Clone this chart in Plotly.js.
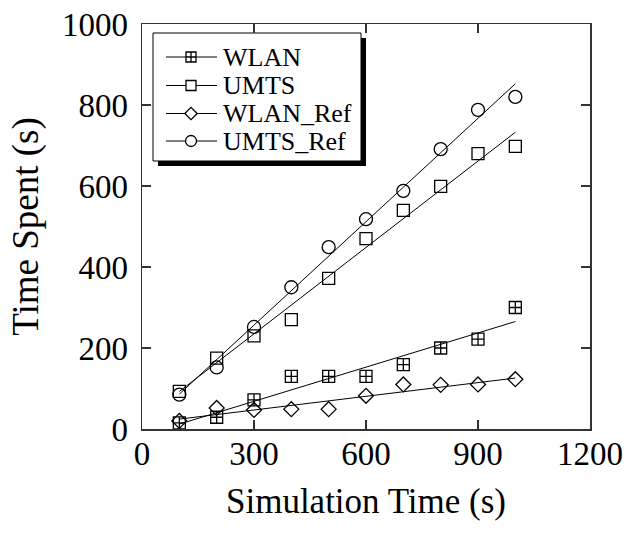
<!DOCTYPE html>
<html>
<head>
<meta charset="utf-8">
<script src="https://cdn.plot.ly/plotly-3.0.1.min.js"></script>
<style>html,body{margin:0;padding:0;background:#fff;}#chart{width:643px;height:534px;}</style>
</head>
<body>
<div id="chart"></div>
<script>
const simTime = [100, 200, 300, 400, 500, 600, 700, 800, 900, 1000];
const wlan    = [15, 29, 72, 130, 130, 130, 159, 200, 222, 300];
const umts    = [93, 175, 230, 270, 372, 470, 540, 599, 680, 698];
const wlanRef = [20, 52, 47, 49, 49, 82, 110, 109, 110, 123];
const umtsRef = [85, 152, 252, 350, 449, 518, 588, 691, 788, 820];
const seriesNames = ['WLAN', 'UMTS', 'WLAN_Ref', 'UMTS_Ref'];
const xTicks = [0, 300, 600, 900, 1200];
const yTicks = [0, 200, 400, 600, 800, 1000];

const seriesData = [wlan, umts, wlanRef, umtsRef];
const symbolsOpen = ['square-cross-open', 'square-open', 'diamond-open', 'circle-open'];
const symbolsFilled = ['square-cross', 'square', 'diamond', 'circle'];
const sizes = [12, 12, 11.5, 13];
const FONT = 'Liberation Serif, Times New Roman, serif';

// plot area in pixels (for legend placement)
const M = {l: 142, r: 53, t: 24, b: 105};
const W = 643, H = 534;
const PW = W - M.l - M.r, PH = H - M.t - M.b;
const fx = px => (px - M.l) / PW;
const fy = py => (H - M.b - py) / PH;

function fit(xs, ys) {
  const n = xs.length;
  const mx = xs.reduce((a, b) => a + b, 0) / n;
  const my = ys.reduce((a, b) => a + b, 0) / n;
  let sxy = 0, sxx = 0;
  for (let i = 0; i < n; i++) { sxy += (xs[i] - mx) * (ys[i] - my); sxx += (xs[i] - mx) ** 2; }
  const b = sxy / sxx, a = my - b * mx;
  const x0 = Math.min(...xs), x1 = Math.max(...xs);
  return {x: [x0, x1], y: [a + b * x0, a + b * x1]};
}

const traces = [];
seriesData.forEach((ys, i) => {
  const f = fit(simTime, ys);
  traces.push({x: f.x, y: f.y, mode: 'lines', line: {color: '#000', width: 1}, showlegend: false, hoverinfo: 'skip'});
  traces.push({x: simTime, y: ys, mode: 'markers', name: seriesNames[i], showlegend: false,
    marker: {symbol: symbolsOpen[i], size: sizes[i], color: '#000', line: {color: '#000', width: 1.3}}});
});

// custom legend (box with drop shadow, line glyphs, markers, labels)
const lg = {left: 153, top: 33, right: 361, bottom: 161, shadow: 5,
  rows: [57, 85.5, 113.5, 141], lineX0: 166, lineX1: 217, markX: 191, textX: 222};
const shapes = [
  {type: 'rect', xref: 'paper', yref: 'paper', layer: 'below',
   x0: fx(lg.left + lg.shadow), x1: fx(lg.right + lg.shadow), y0: fy(lg.bottom + lg.shadow), y1: fy(lg.top + lg.shadow),
   fillcolor: '#000', line: {width: 0}},
  {type: 'rect', xref: 'paper', yref: 'paper', layer: 'below',
   x0: fx(lg.left), x1: fx(lg.right), y0: fy(lg.bottom), y1: fy(lg.top),
   fillcolor: '#fff', line: {color: '#000', width: 1}}
];
const annotations = [];
seriesNames.forEach((nm, i) => {
  const ry = fy(lg.rows[i]);
  shapes.push({type: 'line', xref: 'paper', yref: 'paper', layer: 'below',
    x0: fx(lg.lineX0), x1: fx(lg.lineX1), y0: ry, y1: ry, line: {color: '#000', width: 1}});
  traces.push({x: [fx(lg.markX)], y: [ry], xaxis: 'x2', yaxis: 'y2', mode: 'markers', showlegend: false,
    hoverinfo: 'skip', cliponaxis: false,
    marker: {symbol: symbolsFilled[i], size: sizes[i] - 2, color: '#fff', line: {color: '#000', width: 1.3}}});
  annotations.push({xref: 'paper', yref: 'paper', x: fx(lg.textX), y: ry, xanchor: 'left', yanchor: 'middle',
    text: nm, showarrow: false, font: {family: FONT, size: 26, color: '#000'}, borderpad: 0});
});

const axisCommon = {
  showgrid: false, zeroline: false, showline: true, linecolor: '#333', linewidth: 1.5,
  mirror: 'ticks', ticks: 'inside', ticklen: 9, tickwidth: 1.5, tickcolor: '#333',
  tickfont: {family: FONT, size: 33, color: '#000'}
};

const layout = {
  width: W, height: H,
  margin: M,
  paper_bgcolor: '#fff', plot_bgcolor: '#fff',
  font: {family: FONT, color: '#000'},
  showlegend: false,
  xaxis: Object.assign({}, axisCommon, {range: [0, 1200], tickvals: xTicks, ticktext: xTicks.map(String),
    ticklabelstandoff: -5,
    title: {text: 'Simulation Time (s)', font: {family: FONT, size: 35, color: '#000'}, standoff: 17}}),
  yaxis: Object.assign({}, axisCommon, {range: [0, 1000], tickvals: yTicks, ticktext: yTicks.map(String),
    ticklabelstandoff: 6,
    title: {text: 'Time Spent (s)', font: {family: FONT, size: 37, color: '#000'}, standoff: 12}}),
  xaxis2: {overlaying: 'x', range: [0, 1], visible: false, fixedrange: true},
  yaxis2: {overlaying: 'y', range: [0, 1], visible: false, fixedrange: true},
  shapes: shapes,
  annotations: annotations
};

Plotly.newPlot('chart', traces, layout, {staticPlot: true});
</script>
</body>
</html>
